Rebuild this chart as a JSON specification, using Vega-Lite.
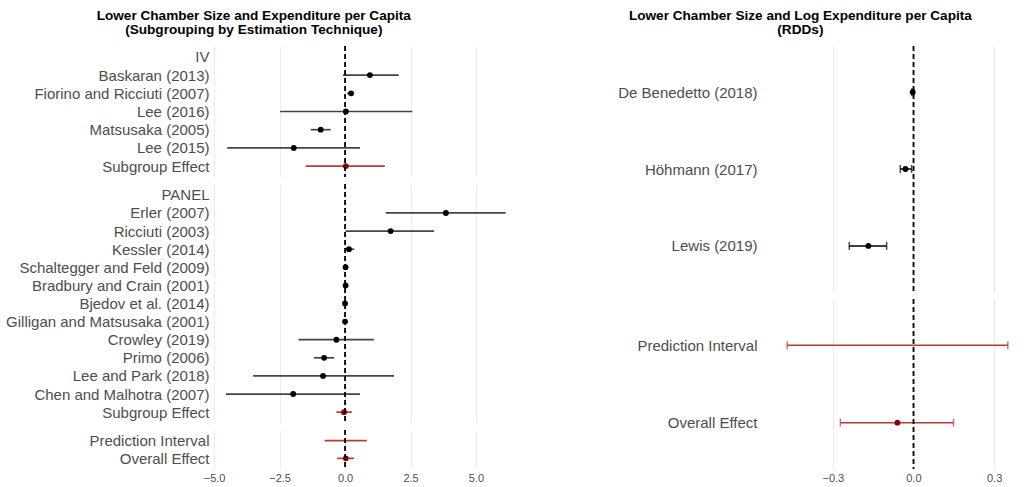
{
  "$schema": "https://vega.github.io/schema/vega-lite/v6.json",
  "padding": {"left": 5, "top": 8, "right": 5, "bottom": 2},
  "background": "white",
  "config": {
    "view": {"stroke": null},
    "font": "Liberation Sans",
    "axis": {"domain": false, "ticks": false, "labelFont": "Liberation Sans", "labelColor": "#4d4d4d", "title": null},
    "title": {"font": "Liberation Sans", "fontSize": 13.6, "fontWeight": "bold", "color": "black", "lineHeight": 14, "offset": 9}
  },
  "datasets": {
    "rows": [
      {"col": "L", "grp": "IV", "study": "Baskaran (2013)", "est": 0.95, "lo": -0.08, "hi": 2.05, "kind": "study"},
      {"col": "L", "grp": "IV", "study": "Fiorino and Ricciuti (2007)", "est": 0.23, "lo": 0.08, "hi": 0.31, "kind": "study"},
      {"col": "L", "grp": "IV", "study": "Lee (2016)", "est": 0.03, "lo": -2.48, "hi": 2.57, "kind": "study"},
      {"col": "L", "grp": "IV", "study": "Matsusaka (2005)", "est": -0.93, "lo": -1.31, "hi": -0.55, "kind": "study"},
      {"col": "L", "grp": "IV", "study": "Lee (2015)", "est": -1.96, "lo": -4.5, "hi": 0.57, "kind": "study"},
      {"col": "L", "grp": "IV", "study": "Subgroup Effect", "est": 0.03, "lo": -1.5, "hi": 1.52, "kind": "summary"},
      {"col": "L", "grp": "PANEL", "study": "Erler (2007)", "est": 3.85, "lo": 1.55, "hi": 6.13, "kind": "study"},
      {"col": "L", "grp": "PANEL", "study": "Ricciuti (2003)", "est": 1.74, "lo": 0.02, "hi": 3.4, "kind": "study"},
      {"col": "L", "grp": "PANEL", "study": "Kessler (2014)", "est": 0.15, "lo": 0.0, "hi": 0.35, "kind": "study"},
      {"col": "L", "grp": "PANEL", "study": "Schaltegger and Feld (2009)", "est": 0.02, "lo": -0.03, "hi": 0.07, "kind": "study"},
      {"col": "L", "grp": "PANEL", "study": "Bradbury and Crain (2001)", "est": 0.02, "lo": -0.02, "hi": 0.06, "kind": "study"},
      {"col": "L", "grp": "PANEL", "study": "Bjedov et al. (2014)", "est": 0.0, "lo": -0.03, "hi": 0.03, "kind": "study"},
      {"col": "L", "grp": "PANEL", "study": "Gilligan and Matsusaka (2001)", "est": 0.0, "lo": -0.02, "hi": 0.02, "kind": "study"},
      {"col": "L", "grp": "PANEL", "study": "Crowley (2019)", "est": -0.33, "lo": -1.78, "hi": 1.1, "kind": "study"},
      {"col": "L", "grp": "PANEL", "study": "Primo (2006)", "est": -0.8, "lo": -1.18, "hi": -0.42, "kind": "study"},
      {"col": "L", "grp": "PANEL", "study": "Lee and Park (2018)", "est": -0.84, "lo": -3.51, "hi": 1.87, "kind": "study"},
      {"col": "L", "grp": "PANEL", "study": "Chen and Malhotra (2007)", "est": -1.98, "lo": -4.55, "hi": 0.57, "kind": "study"},
      {"col": "L", "grp": "PANEL", "study": "Subgroup Effect", "est": -0.04, "lo": -0.33, "hi": 0.26, "kind": "summary"},
      {"col": "L", "grp": "ALL", "study": "Prediction Interval", "est": null, "lo": -0.78, "hi": 0.83, "kind": "pi"},
      {"col": "L", "grp": "ALL", "study": "Overall Effect", "est": 0.03, "lo": -0.3, "hi": 0.34, "kind": "summary"},
      {"col": "R", "grp": "RDD", "study": "De Benedetto (2018)", "est": -0.003, "lo": -0.006, "hi": 0.0, "kind": "study"},
      {"col": "R", "grp": "RDD", "study": "Höhmann (2017)", "est": -0.03, "lo": -0.049, "hi": -0.007, "kind": "study"},
      {"col": "R", "grp": "RDD", "study": "Lewis (2019)", "est": -0.168, "lo": -0.239, "hi": -0.1, "kind": "study"},
      {"col": "R", "grp": "ALL", "study": "Prediction Interval", "est": null, "lo": -0.47, "hi": 0.351, "kind": "pi"},
      {"col": "R", "grp": "ALL", "study": "Overall Effect", "est": -0.06, "lo": -0.272, "hi": 0.149, "kind": "summary"}
    ]
  },
  "spacing": 97,
  "hconcat": [
    {
      "title": {"text": ["Lower Chamber Size and Expenditure per Capita", "(Subgrouping by Estimation Technique)"], "anchor": "middle", "frame": "bounds", "dx": -9},
      "spacing": 5,
      "vconcat": [
        {
          "width": 308, "height": 131,
          "data": {"name": "rows"},
          "transform": [{"filter": "datum.col === 'L' && datum.grp === 'IV'"}],
          "layer": [
            {"mark": {"type": "rule", "strokeWidth": 1.7},
             "encoding": {
               "x": {"field": "lo", "type": "quantitative", "scale": {"domain": [-5.08, 6.68], "nice": false, "zero": false}, "axis": {"values": [-5, -2.5, 0, 2.5, 5], "labels": false, "grid": true, "gridColor": "#ebebeb"}},
               "x2": {"field": "hi"},
               "y": {"field": "study", "type": "nominal", "sort": null, "scale": {"type": "point", "padding": 0.6, "domain": ["IV", "Baskaran (2013)", "Fiorino and Ricciuti (2007)", "Lee (2016)", "Matsusaka (2005)", "Lee (2015)", "Subgroup Effect"]}, "axis": {"labelFontSize": 15, "labelPadding": 3, "labelLimit": 400, "grid": false}},
               "color": {"condition": {"test": "datum.kind !== 'study'", "value": "#b83a3a"}, "value": "#444444"}
             }},
            {"mark": {"type": "point", "filled": true, "size": 34, "opacity": 1},
             "encoding": {
               "x": {"field": "est", "type": "quantitative"},
               "y": {"field": "study", "type": "nominal", "sort": null},
               "color": {"condition": {"test": "datum.kind !== 'study'", "value": "#8b0000"}, "value": "black"}
             }},
            {"data": {"values": [{"ref": 0}]},
             "mark": {"type": "rule", "strokeDash": [5, 3], "strokeWidth": 1.8, "color": "black"},
             "encoding": {"x": {"field": "ref", "type": "quantitative"}}}
          ]
        },
        {
          "width": 308, "height": 239,
          "data": {"name": "rows"},
          "transform": [{"filter": "datum.col === 'L' && datum.grp === 'PANEL'"}],
          "layer": [
            {"mark": {"type": "rule", "strokeWidth": 1.7},
             "encoding": {
               "x": {"field": "lo", "type": "quantitative", "scale": {"domain": [-5.08, 6.68], "nice": false, "zero": false}, "axis": {"values": [-5, -2.5, 0, 2.5, 5], "labels": false, "grid": true, "gridColor": "#ebebeb"}},
               "x2": {"field": "hi"},
               "y": {"field": "study", "type": "nominal", "sort": null, "scale": {"type": "point", "padding": 0.6, "domain": ["PANEL", "Erler (2007)", "Ricciuti (2003)", "Kessler (2014)", "Schaltegger and Feld (2009)", "Bradbury and Crain (2001)", "Bjedov et al. (2014)", "Gilligan and Matsusaka (2001)", "Crowley (2019)", "Primo (2006)", "Lee and Park (2018)", "Chen and Malhotra (2007)", "Subgroup Effect"]}, "axis": {"labelFontSize": 15, "labelPadding": 3, "labelLimit": 400, "grid": false}},
               "color": {"condition": {"test": "datum.kind !== 'study'", "value": "#b83a3a"}, "value": "#444444"}
             }},
            {"mark": {"type": "point", "filled": true, "size": 34, "opacity": 1},
             "encoding": {
               "x": {"field": "est", "type": "quantitative"},
               "y": {"field": "study", "type": "nominal", "sort": null},
               "color": {"condition": {"test": "datum.kind !== 'study'", "value": "#8b0000"}, "value": "black"}
             }},
            {"data": {"values": [{"ref": 0}]},
             "mark": {"type": "rule", "strokeDash": [5, 3], "strokeWidth": 1.8, "color": "black"},
             "encoding": {"x": {"field": "ref", "type": "quantitative"}}}
          ]
        },
        {
          "width": 308, "height": 39,
          "data": {"name": "rows"},
          "transform": [{"filter": "datum.col === 'L' && datum.grp === 'ALL'"}],
          "layer": [
            {"mark": {"type": "rule", "strokeWidth": 1.7},
             "encoding": {
               "x": {"field": "lo", "type": "quantitative", "scale": {"domain": [-5.08, 6.68], "nice": false, "zero": false}, "axis": {"values": [-5, -2.5, 0, 2.5, 5], "format": ".1f", "labelFontSize": 11, "labelPadding": 3, "grid": true, "gridColor": "#ebebeb"}},
               "x2": {"field": "hi"},
               "y": {"field": "study", "type": "nominal", "sort": null, "scale": {"type": "point", "padding": 0.6, "domain": ["Prediction Interval", "Overall Effect"]}, "axis": {"labelFontSize": 15, "labelPadding": 3, "labelLimit": 400, "grid": false}},
               "color": {"condition": {"test": "datum.kind !== 'study'", "value": "#b83a3a"}, "value": "#444444"}
             }},
            {"mark": {"type": "point", "filled": true, "size": 34, "opacity": 1},
             "encoding": {
               "x": {"field": "est", "type": "quantitative"},
               "y": {"field": "study", "type": "nominal", "sort": null},
               "color": {"condition": {"test": "datum.kind !== 'study'", "value": "#8b0000"}, "value": "black"}
             }},
            {"data": {"values": [{"ref": 0}]},
             "mark": {"type": "rule", "strokeDash": [5, 3], "strokeWidth": 1.8, "color": "black"},
             "encoding": {"x": {"field": "ref", "type": "quantitative"}}}
          ]
        }
      ]
    },
    {
      "title": {"text": ["Lower Chamber Size and Log Expenditure per Capita", "(RDDs)"], "anchor": "middle", "frame": "bounds", "dx": -19},
      "spacing": 5,
      "vconcat": [
        {
          "width": 258, "height": 246,
          "data": {"name": "rows"},
          "transform": [{"filter": "datum.col === 'R' && datum.grp === 'RDD'"}],
          "layer": [
            {"mark": {"type": "rule", "strokeWidth": 1.5},
             "encoding": {
               "x": {"field": "lo", "type": "quantitative", "scale": {"domain": [-0.56, 0.4], "nice": false, "zero": false}, "axis": {"values": [-0.3, 0, 0.3], "labels": false, "grid": true, "gridColor": "#ebebeb"}},
               "x2": {"field": "hi"},
               "y": {"field": "study", "type": "nominal", "sort": null, "scale": {"type": "point", "padding": 0.6, "domain": ["De Benedetto (2018)", "Höhmann (2017)", "Lewis (2019)"]}, "axis": {"labelFontSize": 15, "labelPadding": 6, "labelLimit": 400, "grid": false}},
               "color": {"value": "black"}
             }},
            {"mark": {"type": "tick", "thickness": 1.5, "size": 8},
             "encoding": {"x": {"field": "lo", "type": "quantitative"}, "y": {"field": "study", "type": "nominal", "sort": null}, "color": {"value": "black"}}},
            {"mark": {"type": "tick", "thickness": 1.5, "size": 8},
             "encoding": {"x": {"field": "hi", "type": "quantitative"}, "y": {"field": "study", "type": "nominal", "sort": null}, "color": {"value": "black"}}},
            {"mark": {"type": "point", "filled": true, "size": 34, "opacity": 1},
             "encoding": {"x": {"field": "est", "type": "quantitative"}, "y": {"field": "study", "type": "nominal", "sort": null}, "color": {"value": "black"}}},
            {"data": {"values": [{"ref": 0}]},
             "mark": {"type": "rule", "strokeDash": [5, 3], "strokeWidth": 1.8, "color": "black"},
             "encoding": {"x": {"field": "ref", "type": "quantitative"}}}
          ]
        },
        {
          "width": 258, "height": 170,
          "data": {"name": "rows"},
          "transform": [{"filter": "datum.col === 'R' && datum.grp === 'ALL'"}],
          "layer": [
            {"mark": {"type": "rule", "strokeWidth": 1.5},
             "encoding": {
               "x": {"field": "lo", "type": "quantitative", "scale": {"domain": [-0.56, 0.4], "nice": false, "zero": false}, "axis": {"values": [-0.3, 0, 0.3], "format": ".1f", "labelFontSize": 11, "labelPadding": 3, "grid": true, "gridColor": "#ebebeb"}},
               "x2": {"field": "hi"},
               "y": {"field": "study", "type": "nominal", "sort": null, "scale": {"type": "point", "padding": 0.6, "domain": ["Prediction Interval", "Overall Effect"]}, "axis": {"labelFontSize": 15, "labelPadding": 6, "labelLimit": 400, "grid": false}},
               "color": {"value": "#b83a3a"}
             }},
            {"mark": {"type": "tick", "thickness": 1.5, "size": 8},
             "encoding": {"x": {"field": "lo", "type": "quantitative"}, "y": {"field": "study", "type": "nominal", "sort": null}, "color": {"value": "#b83a3a"}}},
            {"mark": {"type": "tick", "thickness": 1.5, "size": 8},
             "encoding": {"x": {"field": "hi", "type": "quantitative"}, "y": {"field": "study", "type": "nominal", "sort": null}, "color": {"value": "#b83a3a"}}},
            {"mark": {"type": "point", "filled": true, "size": 34, "opacity": 1},
             "encoding": {"x": {"field": "est", "type": "quantitative"}, "y": {"field": "study", "type": "nominal", "sort": null}, "color": {"value": "#8b0000"}}},
            {"data": {"values": [{"ref": 0}]},
             "mark": {"type": "rule", "strokeDash": [5, 3], "strokeWidth": 1.8, "color": "black"},
             "encoding": {"x": {"field": "ref", "type": "quantitative"}}}
          ]
        }
      ]
    }
  ]
}
